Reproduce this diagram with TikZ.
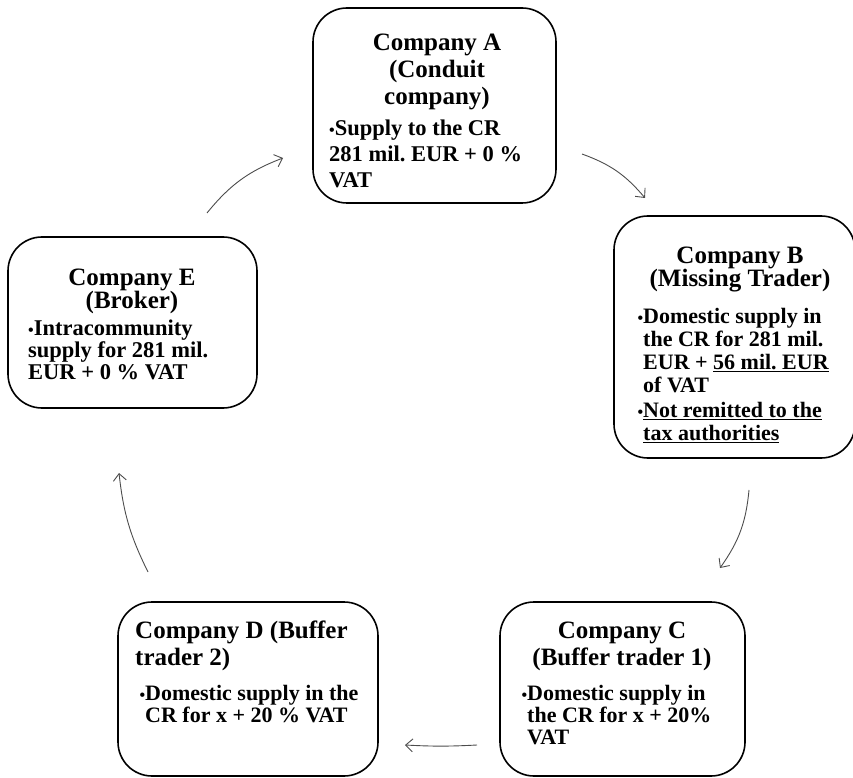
\documentclass[tikz,border=0pt]{standalone}
\usepackage{fontspec}
\setmainfont{Liberation Serif}
\usetikzlibrary{arrows.meta, positioning, calc}

% helpers
\newcommand{\hstrut}{\rule{0pt}{20pt}}
\newcommand{\bul}{{\fontsize{16}{16}\selectfont\textbullet}}
\newcommand{\undl}[1]{\setbox0=\hbox{#1}\rlap{\rule[-2.6pt]{\wd0}{1.3pt}}\box0}

\begin{document}
\begin{tikzpicture}[x=1pt, y=1pt,
    % Box styles
    company/.style={rectangle, draw, line width=1.6pt, rounded corners=34pt,
                    inner sep=0pt, outer sep=0pt, anchor=north west},
    titletext/.style={font=\fontsize{25}{#1}\selectfont\bfseries, align=center,
                      anchor=north, inner sep=0pt},
    bodytext/.style={font=\fontsize{22}{#1}\selectfont\bfseries, align=left,
                     anchor=north west, inner sep=0pt},
    flow/.style={-{Straight Barb[length=7pt, width=13pt]}, draw=black!70, line width=0.9pt}
]
\useasboundingbox (0,0) rectangle (853,777);

% Company boxes
\node[company, minimum width=243pt, minimum height=195pt] (A) at (313,769) {};
\node[company, minimum width=241pt, minimum height=242pt] (B) at (614,561) {};
\node[company, minimum width=245pt, minimum height=174pt] (C) at (500,175) {};
\node[company, minimum width=260pt, minimum height=174pt] (D) at (118,175) {};
\node[company, minimum width=249pt, minimum height=171pt] (E) at (8,540) {};

% Company A
\node[titletext=27] (Atitle) at (437,747) {\hstrut Company A\\(Conduit\\company)};
\node[bodytext=26, font=\fontsize{22.5}{26}\selectfont\bfseries] (Abody) at (329,662)
    {\hstrut\bul Supply to the CR\\281 mil.\ EUR + 0 \%\\VAT};

% Company B
\node[titletext=23] (Btitle) at (740,534) {\hstrut Company B\\(Missing Trader)};
\node[bodytext=23] (Bbody) at (643,474) {\hstrut\llap{\bul}Domestic supply in\\the CR for 281 mil.\\EUR + \undl{56 mil.\ EUR}\\of VAT\\[2pt]
    \llap{\bul}\undl{Not remitted to the}\\\undl{tax authorities}};

% Company C
\node[titletext=27] (Ctitle) at (622,159) {\hstrut Company C\\(Buffer trader 1)};
\node[bodytext=22] (Cbody) at (527,97) {\hstrut\llap{\bul}Domestic supply in\\the CR for x + 20\%\\VAT};

% Company D
\node[titletext=27, align=left, anchor=north west] (Dtitle) at (135,159) {\hstrut Company D (Buffer\\trader 2)};
\node[bodytext=22] (Dbody) at (145,97) {\hstrut\llap{\bul}Domestic supply in the\\CR for x + 20 \% VAT};

% Company E
\node[titletext=23] (Etitle) at (132,512) {\hstrut Company E\\(Broker)};
\node[bodytext=22, font=\fontsize{22.5}{22}\selectfont\bfseries] (Ebody) at (28,462)
    {\hstrut\bul Intracommunity\\supply for 281 mil.\\EUR + 0 \% VAT};

% Connections (carousel)
\draw[flow] ([shift={(-50,24)}]E.north east) to[bend left=15] ([shift={(-30,45)}]A.south west);
\draw[flow] ([shift={(26,49)}]A.south east) to[bend left=15] ([shift={(31,18)}]B.north west);
\draw[flow] ([shift={(135,-32)}]B.south west) to[bend left=15] ([shift={(-25,34)}]C.north east);
\draw[flow] ([shift={(-23,31)}]C.south west) to[bend left=3] ([shift={(27,31)}]D.south east);
\draw[flow] ([shift={(30,30)}]D.north west) to[bend left=10] ([shift={(111,-65)}]E.south west);

\end{tikzpicture}
\end{document}
